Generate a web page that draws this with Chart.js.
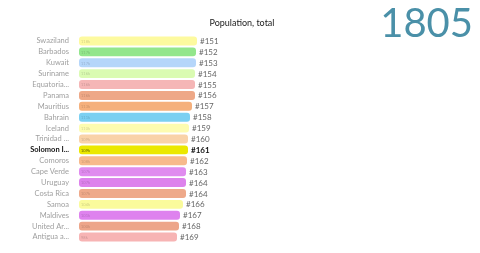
<!DOCTYPE html>
<html>
<head>
<meta charset="utf-8">
<script src="https://cdn.jsdelivr.net/npm/chart.js@4"></script>
<style>
  html, body { margin: 0; padding: 0; background: #fff; }
  #wrap { width: 480px; height: 253px; position: relative; }
</style>
</head>
<body>
<div id="wrap"><canvas id="chart"></canvas></div>
<script>
const countries = ["Swaziland", "Barbados", "Kuwait", "Suriname", "Equatoria...", "Panama", "Mauritius",
  "Bahrain", "Iceland", "Trinidad ...", "Solomon I...", "Comoros", "Cape Verde", "Uruguay",
  "Costa Rica", "Samoa", "Maldives", "United Ar...", "Antigua a..."]
const population = [118, 117, 117, 116, 116, 116, 113, 111, 110, 109, 109, 108, 107, 107, 107, 104, 101, 100, 98]
const ranks = ["#151", "#152", "#153", "#154", "#155", "#156", "#157", "#158", "#159", "#160",
  "#161", "#162", "#163", "#164", "#164", "#166", "#167", "#168", "#169"]
const barColors = ["#fdfa9f", "#93e68c", "#b5d6fa", "#dafbb2", "#f5b6b6", "#eea887", "#f5b07c",
  "#7bd0f2", "#fdfcb0", "#f9d2a8", "#ebe800", "#f7ba8c", "#e08bef", "#dd82ec",
  "#eea98a", "#fafb9c", "#de82ee", "#eda589", "#f7b4b4"]
const highlight = "Solomon I..."
const title = "Population, total"
const year = "1805"

const overlay = {
  id: "overlay",
  afterDatasetsDraw(chart) {
    const ctx = chart.ctx
    const meta = chart.getDatasetMeta(0)
    ctx.save()
    ctx.textBaseline = "middle"
    meta.data.forEach((bar, i) => {
      const hl = countries[i] === highlight
      ctx.textAlign = "left"
      ctx.fillStyle = hl ? "#111" : "#666"
      ctx.font = (hl ? "bold " : "") + "8px Lato"
      ctx.fillText(ranks[i], bar.x + 3, bar.y + 0.5)
      ctx.fillStyle = hl ? "rgba(0,0,0,0.6)" : "rgba(0,0,0,0.18)"
      ctx.font = "4px Lato"
      ctx.fillText(population[i] + "k", bar.base + 2, bar.y + 0.5)
    })
    ctx.fillStyle = "#222"
    ctx.font = "9px Lato"
    ctx.textAlign = "center"
    ctx.fillText(title, 242, 23)
    ctx.fillStyle = "#4a90a8"
    ctx.font = "40px Lato"
    ctx.textAlign = "right"
    ctx.textBaseline = "alphabetic"
    ctx.fillText(year, 473, 37)
    ctx.restore()
  }
}

new Chart(document.getElementById("chart"), {
  type: "bar",
  data: {
    labels: countries,
    datasets: [{
      data: population,
      backgroundColor: barColors,
      borderRadius: 3,
      borderSkipped: false,
      barPercentage: 0.82,
      categoryPercentage: 1
    }]
  },
  options: {
    indexAxis: "y",
    responsive: true,
    maintainAspectRatio: false,
    animation: false,
    layout: { padding: { top: 35.5, bottom: 10.5, right: 241, left: 0 } },
    plugins: { legend: { display: false }, tooltip: { enabled: false } },
    scales: {
      x: { display: false, min: 0, max: 160 },
      y: {
        afterFit(scale) { scale.width = 79 },
        grid: { display: false },
        border: { display: false },
        ticks: {
          autoSkip: false,
          padding: 2,
          font: ctx => ({ family: "Lato", size: 7.5, weight: countries[ctx.index] === highlight ? "bold" : "normal" }),
          color: ctx => countries[ctx.index] === highlight ? "#111" : "#a0a0a0"
        }
      }
    }
  },
  plugins: [overlay]
})
</script>
</body>
</html>
